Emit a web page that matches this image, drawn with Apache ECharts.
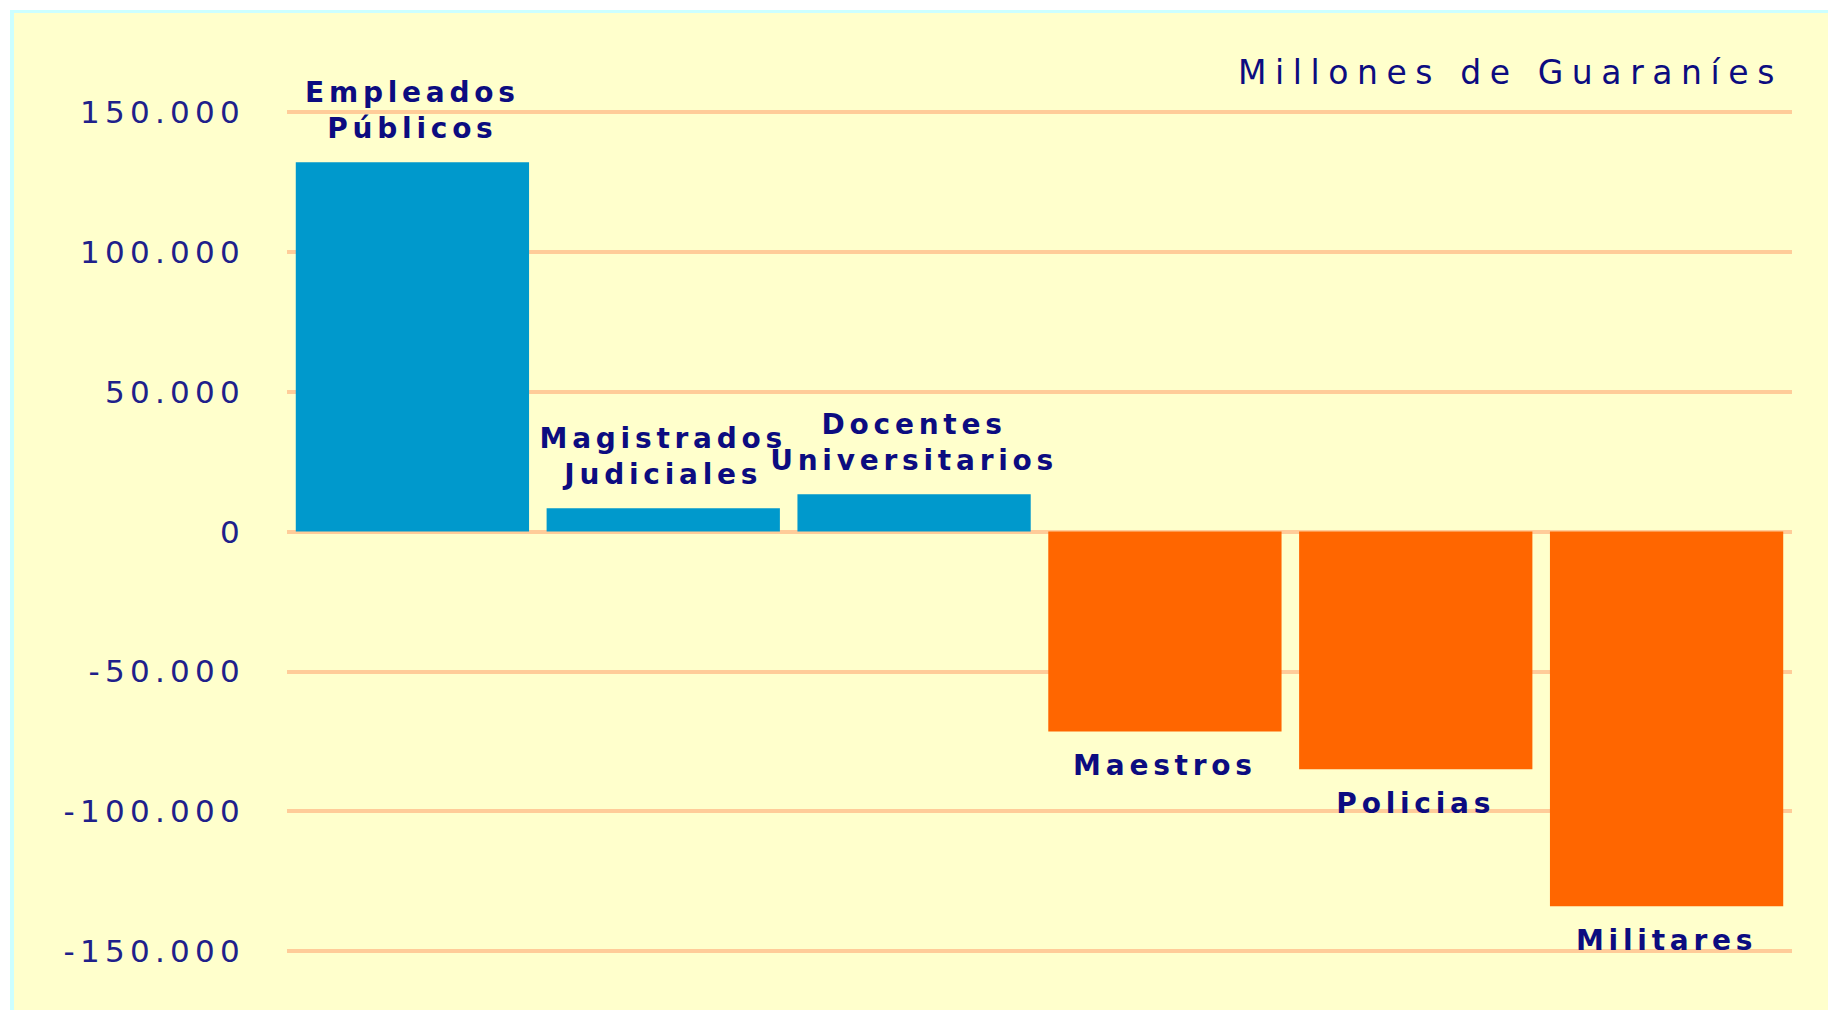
<!DOCTYPE html>
<html><head><meta charset="utf-8">
<script src="https://cdn.jsdelivr.net/npm/echarts@6/dist/echarts.min.js"></script>
<style>
html,body{margin:0;padding:0;background:#ffffff;width:1828px;height:1010px;overflow:hidden;}
#frame{position:absolute;left:10px;top:10px;width:1818px;height:1000px;background:#FFFFCC;border-left:4px solid #CCFFFF;border-top:3px solid #CCFFFF;box-sizing:border-box;}
#chart{position:absolute;left:0;top:0;width:1828px;height:1010px;}
#chart text{letter-spacing:0.17em;}
#chart text[style*="33px"]{letter-spacing:0.26em;}
</style></head><body>
<div id="frame"></div><div id="chart"></div>
<script>
// ---- data ----
const categories = ['Empleados Públicos', 'Magistrados Judiciales', 'Docentes Universitarios', 'Maestros', 'Policias', 'Militares'];
const values = [132000, 8300, 13300, -71500, -85000, -134000];
const axisMin = -150000;
const axisMax = 150000;
const axisStep = 50000;
const unitLabel = 'Millones de Guaraníes';

// ---- style ----
const positiveColor = '#0099CC';
const negativeColor = '#FF6600';
const textColor = '#0c0c80';
const fontFam = '"DejaVu Sans", Verdana, sans-serif';

function fmt(v) {
  return String(v).replace(/\B(?=(\d{3})+(?!\d))/g, '.');
}

const chart = echarts.init(document.getElementById('chart'), null, {renderer: 'svg'});
chart.setOption({
  backgroundColor: 'transparent',
  animation: false,
  grid: {left: 287, right: 36, top: 112, bottom: 59, containLabel: false},
  graphic: [{
    type: 'text',
    x: 1783, y: 72,
    style: {text: unitLabel, fill: textColor, fontSize: 33, fontFamily: fontFam, align: 'right', verticalAlign: 'middle'}
  }],
  xAxis: {
    type: 'category',
    data: categories,
    axisLine: {show: false},
    axisTick: {show: false},
    axisLabel: {show: false},
    splitLine: {show: false}
  },
  yAxis: {
    type: 'value',
    min: axisMin, max: axisMax, interval: axisStep,
    axisLine: {show: false},
    axisTick: {show: false},
    axisLabel: {formatter: fmt, color: '#20208a', fontSize: 31, fontFamily: fontFam, margin: 42},
    splitLine: {lineStyle: {color: '#FFCC99', width: 4}}
  },
  series: [{
    type: 'bar',
    barCategoryGap: '7%',
    data: values.map(v => ({
      value: v,
      itemStyle: {color: v >= 0 ? positiveColor : negativeColor},
      label: {position: v >= 0 ? 'top' : 'bottom'}
    })),
    label: {
      show: true,
      formatter: p => p.name.replace(' ', '\n'),
      color: textColor,
      fontSize: 28,
      fontWeight: 'bold',
      fontFamily: fontFam,
      lineHeight: 36,
      distance: 16
    }
  }]
});
</script>
</body></html>
